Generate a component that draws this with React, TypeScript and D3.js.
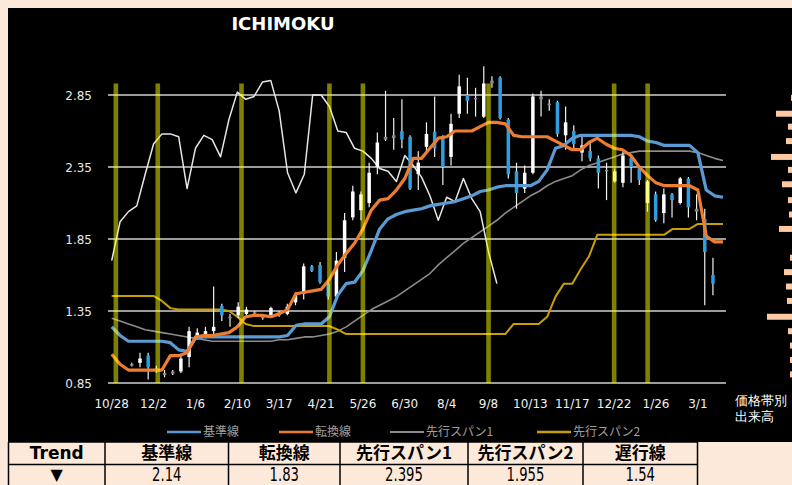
import React from 'react';
import * as d3 from 'd3';

// weekly axis labels, one every 5 weeks
const tickLabels = ['10/28', '12/2', '1/6', '2/10', '3/17', '4/21', '5/26', '6/30', '8/4', '9/8', '10/13', '11/17', '12/22', '1/26', '3/1'];
const yTickValues = [0.85, 1.35, 1.85, 2.35, 2.85];

// ichimoku lines (74 weeks incl. the 26 week lead)
const kijun = [1.24, 1.18, 1.14, 1.14, 1.14, 1.14, 1.14, 1.13, 1.08, 1.07,
  1.16, 1.17, 1.17, 1.17, 1.17, 1.17, 1.17, 1.17, 1.17, 1.17,
  1.17, 1.18, 1.25, 1.26, 1.26, 1.26, 1.31, 1.46, 1.54, 1.55,
  1.63, 1.77, 1.92, 1.99, 2.02, 2.04, 2.05, 2.06, 2.08, 2.09,
  2.10, 2.11, 2.13, 2.15, 2.18, 2.19, 2.21, 2.22, 2.22, 2.22,
  2.22, 2.25, 2.33, 2.48, 2.50, 2.55, 2.57, 2.57, 2.57, 2.57,
  2.57, 2.57, 2.57, 2.56, 2.53, 2.52, 2.50, 2.50, 2.50, 2.50,
  2.45, 2.19, 2.15, 2.14];
const tenkan = [1.05, 0.98, 0.94, 0.94, 0.94, 0.94, 0.94, 1.04, 1.04, 1.06,
  1.17, 1.18, 1.18, 1.19, 1.20, 1.24, 1.31, 1.32, 1.32, 1.31,
  1.33, 1.36, 1.47, 1.48, 1.49, 1.50, 1.57, 1.67, 1.75, 1.82,
  1.92, 2.05, 2.12, 2.13, 2.19, 2.27, 2.41, 2.41, 2.48, 2.55,
  2.56, 2.60, 2.60, 2.60, 2.63, 2.66, 2.66, 2.65, 2.57, 2.56,
  2.56, 2.56, 2.56, 2.53, 2.50, 2.47, 2.47, 2.52, 2.55, 2.51,
  2.48, 2.47, 2.43, 2.35, 2.29, 2.24, 2.22, 2.22, 2.22, 2.22,
  2.19, 1.87, 1.83, 1.83];
const span1 = [1.30, 1.28, 1.26, 1.24, 1.22, 1.21, 1.20, 1.19, 1.18, 1.17,
  1.16, 1.15, 1.14, 1.14, 1.14, 1.14, 1.14, 1.14, 1.14, 1.14,
  1.15, 1.15, 1.16, 1.17, 1.17, 1.18, 1.19, 1.21, 1.24, 1.28,
  1.32, 1.36, 1.39, 1.42, 1.45, 1.49, 1.53, 1.57, 1.61, 1.67,
  1.72, 1.77, 1.82, 1.86, 1.90, 1.94, 1.98, 2.03, 2.07, 2.11,
  2.15, 2.18, 2.22, 2.25, 2.27, 2.29, 2.33, 2.36, 2.38, 2.40,
  2.42, 2.44, 2.45, 2.46, 2.46, 2.46, 2.46, 2.46, 2.46, 2.46,
  2.45, 2.43, 2.41, 2.395];
const span2 = [1.455, 1.455, 1.455, 1.455, 1.455, 1.455, 1.42, 1.37, 1.36, 1.36,
  1.36, 1.36, 1.36, 1.36, 1.35, 1.31, 1.26, 1.245, 1.245, 1.245,
  1.245, 1.245, 1.245, 1.245, 1.245, 1.245, 1.245, 1.22, 1.19, 1.19,
  1.19, 1.19, 1.19, 1.19, 1.19, 1.19, 1.19, 1.19, 1.19, 1.19,
  1.19, 1.19, 1.19, 1.19, 1.19, 1.19, 1.19, 1.19, 1.26, 1.26,
  1.26, 1.26, 1.31, 1.45, 1.54, 1.54, 1.64, 1.73, 1.88, 1.88,
  1.88, 1.88, 1.88, 1.88, 1.88, 1.88, 1.88, 1.92, 1.92, 1.92,
  1.955, 1.955, 1.955, 1.955];
const chikou = [1.70, 1.97, 2.04, 2.08, 2.30, 2.51, 2.58, 2.58, 2.56, 2.20,
  2.48, 2.57, 2.54, 2.42, 2.68, 2.87, 2.82, 2.84, 2.94, 2.95,
  2.74, 2.31, 2.17, 2.30, 2.85, 2.85, 2.77, 2.60, 2.59, 2.48,
  2.46, 2.41, 2.34, 2.32, 2.25, 2.43, 2.36, 2.28, 2.15, 1.98,
  2.14, 2.11, 2.27, 2.13, 2.04, 1.76, 1.54];

// weekly candles
const opens = [0.975, 0.99, 1.04, 0.95, 0.92, 0.915, 0.93, 1.03, 1.16, 1.17,
  1.21, 1.385, 1.31, 1.32, 1.33, 1.32, 1.30, 1.32, 1.34, 1.33,
  1.41, 1.47, 1.66, 1.67, 1.54, 1.45, 1.72, 2.00, 2.05, 2.10,
  2.35, 2.56, 2.55, 2.60, 2.56, 2.30, 2.49, 2.595, 2.55, 2.42,
  2.72, 2.85, 2.82, 2.70, 2.93, 2.97, 2.68, 2.32, 2.20, 2.31,
  2.84, 2.79, 2.80, 2.57, 2.60, 2.45, 2.46, 2.41, 2.33, 2.25,
  2.24, 2.41, 2.34, 2.10, 2.16, 2.03, 2.16, 2.10, 2.27, 2.06,
  1.99, 1.60];
const highs = [0.99, 1.06, 1.06, 0.97, 0.94, 0.94, 1.04, 1.24, 1.23, 1.24,
  1.52, 1.40, 1.33, 1.41, 1.38, 1.35, 1.33, 1.38, 1.35, 1.40,
  1.48, 1.68, 1.67, 1.69, 1.56, 1.76, 2.03, 2.22, 2.18, 2.38,
  2.59, 2.88, 2.69, 2.82, 2.57, 2.46, 2.66, 2.84, 2.57, 2.72,
  2.99, 2.97, 2.90, 3.05, 2.98, 2.98, 2.69, 2.38, 2.36, 2.86,
  2.88, 2.82, 2.81, 2.77, 2.64, 2.58, 2.52, 2.43, 2.38, 2.34,
  2.46, 2.43, 2.35, 2.26, 2.18, 2.20, 2.17, 2.28, 2.28, 2.16,
  2.06, 1.72];
const lows = [0.965, 0.96, 0.875, 0.92, 0.89, 0.905, 0.92, 0.96, 1.15, 1.16,
  1.19, 1.28, 1.24, 1.30, 1.32, 1.31, 1.29, 1.32, 1.31, 1.32,
  1.39, 1.43, 1.62, 1.54, 1.43, 1.44, 1.62, 1.98, 1.98, 2.07,
  2.30, 2.53, 2.47, 2.48, 2.19, 2.19, 2.445, 2.42, 2.225, 2.36,
  2.69, 2.72, 2.70, 2.69, 2.90, 2.68, 2.27, 2.06, 2.17, 2.30,
  2.70, 2.74, 2.56, 2.47, 2.48, 2.39, 2.39, 2.20, 2.12, 2.24,
  2.21, 2.24, 2.225, 2.04, 1.97, 1.96, 2.00, 2.09, 2.00, 1.98,
  1.39, 1.46];
const closes = [0.98, 1.02, 0.96, 0.94, 0.905, 0.93, 1.02, 1.21, 1.20, 1.21,
  1.24, 1.32, 1.30, 1.38, 1.36, 1.34, 1.32, 1.37, 1.32, 1.38,
  1.46, 1.66, 1.63, 1.55, 1.45, 1.70, 1.98, 2.18, 2.16, 2.31,
  2.52, 2.54, 2.57, 2.54, 2.20, 2.38, 2.58, 2.48, 2.35, 2.65,
  2.91, 2.81, 2.83, 2.93, 2.95, 2.69, 2.30, 2.17, 2.31, 2.84,
  2.82, 2.78, 2.58, 2.66, 2.51, 2.50, 2.41, 2.31, 2.32, 2.32,
  2.43, 2.35, 2.26, 2.25, 1.98, 2.16, 2.12, 2.27, 2.07, 2.04,
  1.76, 1.54];

// signal weeks (yellow columns) and their height
const signalWeeks = [0.5, 5.5, 15.5, 26, 30, 45, 60, 64];
const signalTop = 2.93;

// volume by price band
const volumeBands = [2.83, 2.72, 2.63, 2.53, 2.42, 2.33, 2.23, 2.12, 2.02, 1.92,
  1.82, 1.72, 1.62, 1.52, 1.42, 1.31, 1.21, 1.11, 1.01, 0.91];
const volumes = [9, 24, 12, 14, 29, 12, 18, 12, 11, 21,
  5, 10, 16, 14, 13, 33, 12, 10, 10, 10];

const legendNames = ['基準線', '転換線', '先行スパン1', '先行スパン2'];
const tableHeaders = ['Trend', '基準線', '転換線', '先行スパン1', '先行スパン2', '遅行線'];
const tableValues = ['▼', '2.14', '1.83', '2.395', '1.955', '1.54'];

const COLORS = {
  kijun: '#5b9bd5',
  tenkan: '#ed7d31',
  span1: '#8c8c8c',
  span2: '#c9a000',
  chikou: '#e6e6e6',
  bear: '#2e9ee0',
  grid: '#d0d0d0',
  peach: '#fde9d9',
};

const JP = '"Noto Sans CJK JP", "DejaVu Sans", sans-serif';
const LAT = '"DejaVu Sans", sans-serif';

export default function App() {
  const x = d3.scaleLinear().domain([0, kijun.length - 1]).range([111.7, 723]);
  const y = d3.scaleLinear().domain([0.85, 2.85]).range([383, 95]);
  const cx = d3.scaleLinear().domain([0, opens.length - 1]).range([x(2.4), x(71.8)]);
  const vx = d3.scaleLinear().domain([0, 40]).range([800, 760]);

  const lineGen = d3.line<number>().x((_, i) => x(i)).y(d => y(d));

  const candleColor = (i: number) => {
    const diff = closes[i] - opens[i];
    if (Math.abs(diff) < 0.025) return '#8a8a8a';
    return diff > 0 ? '#ffffff' : COLORS.bear;
  };

  const legendColors = [COLORS.kijun, COLORS.tenkan, COLORS.span1, COLORS.span2];
  const legendX = [167, 279, 390, 537];

  const colEdges = [8.5, 105, 228.5, 340, 468, 583, 697.5];

  return (
    <div style={{ position: 'fixed', left: 0, top: 0, width: 792, height: 485, background: COLORS.peach }}>
      <svg width={792} height={485} style={{ display: 'block' }}>
        <rect x={8} y={8} width={784} height={434} fill="#000" />

        <text x={283} y={30} textAnchor="middle" fill="#fff" fontSize={18} fontWeight="bold"
          fontFamily={LAT}>ICHIMOKU</text>

        {/* gridlines + y labels */}
        {yTickValues.map(v => (
          <g key={v}>
            <line x1={108} x2={726} y1={y(v)} y2={y(v)} stroke={COLORS.grid} strokeWidth={1.5} />
            <text x={92} y={y(v) + 4.5} textAnchor="end" fill="#e8e8e8" fontSize={12}
              fontFamily={LAT}>{v.toFixed(2)}</text>
          </g>
        ))}

        {/* x labels */}
        {tickLabels.map((t, k) => (
          <text key={t + k} x={x(k * 5)} y={408} textAnchor="middle" fill="#f0f0f0" fontSize={12}
            fontFamily={LAT}>{t}</text>
        ))}

        {/* spans and lagging line */}
        <path d={lineGen(span1) || ''} fill="none" stroke={COLORS.span1} strokeWidth={1.6} strokeLinejoin="round" />
        <path d={lineGen(span2) || ''} fill="none" stroke={COLORS.span2} strokeWidth={2} strokeLinejoin="round" />
        <path d={lineGen(chikou) || ''} fill="none" stroke={COLORS.chikou} strokeWidth={1.5} strokeLinejoin="round" />

        {/* candles */}
        {opens.map((o, i) => {
          const c = closes[i];
          const top = y(Math.max(o, c));
          const bot = y(Math.min(o, c));
          return (
            <g key={'c' + i}>
              <line x1={cx(i)} x2={cx(i)} y1={y(highs[i])} y2={y(lows[i])} stroke="#f2f2f2" strokeWidth={1.2} />
              <rect x={cx(i) - 1.75} y={top} width={3.5} height={Math.max(bot - top, 1.5)} fill={candleColor(i)} />
            </g>
          );
        })}

        <path d={lineGen(kijun) || ''} fill="none" stroke={COLORS.kijun} strokeWidth={3.2} strokeLinejoin="round" />
        <path d={lineGen(tenkan) || ''} fill="none" stroke={COLORS.tenkan} strokeWidth={3.2} strokeLinejoin="round" />

        {/* signal columns */}
        {signalWeeks.map(w => (
          <rect key={'s' + w} x={x(w) - 2.3} y={y(signalTop)} width={4.6} height={y(0.85) - y(signalTop)}
            fill="#ffff00" fillOpacity={0.5} />
        ))}

        {/* volume at price */}
        {volumeBands.map((b, i) => (
          <rect key={'v' + i} x={vx(volumes[i])} y={y(b) - 3} width={vx(0) - vx(volumes[i])} height={6}
            fill="#fbc9a3" />
        ))}
        <text x={735} y={405} fill="#fff" fontSize={12.8} fontFamily={LAT}>価格帯別</text>
        <text x={735} y={420.5} fill="#fff" fontSize={12.8} fontFamily={LAT}>出来高</text>

        {/* legend */}
        {legendNames.map((n, i) => (
          <g key={n}>
            <line x1={legendX[i]} x2={legendX[i] + 34} y1={432} y2={432} stroke={legendColors[i]}
              strokeWidth={i === 2 ? 2 : 2.6} />
            <text x={legendX[i] + 36} y={436} fill="#a0a0a0" fontSize={12} fontFamily={JP}>{n}</text>
          </g>
        ))}

        {/* table */}
        <g stroke="#000" strokeWidth={1.5}>
          <line x1={8} x2={697.5} y1={442} y2={442} />
          <line x1={8} x2={697.5} y1={464.5} y2={464.5} />
          {colEdges.map(e => <line key={e} x1={e} x2={e} y1={442} y2={485} />)}
        </g>
        {tableHeaders.map((h, i) => {
          const mid = (colEdges[i] + colEdges[i + 1]) / 2;
          return (
            <text key={h} x={mid} y={459} textAnchor="middle" fill="#000" fontWeight="bold"
              fontSize={17} fontFamily={i === 0 ? LAT : JP}>{h}</text>
          );
        })}
        {tableValues.map((v, i) => {
          const mid = (colEdges[i] + colEdges[i + 1]) / 2;
          return i === 0 ? (
            <text key={'tv' + i} x={mid} y={480} textAnchor="middle" fill="#000" fontSize={16}
              fontFamily={LAT}>{v}</text>
          ) : (
            <text key={'tv' + i} transform={`translate(${mid},481) scale(0.66,1)`} textAnchor="middle" fill="#000"
              fontSize={20} fontFamily={LAT}>{v}</text>
          );
        })}
      </svg>
    </div>
  );
}
